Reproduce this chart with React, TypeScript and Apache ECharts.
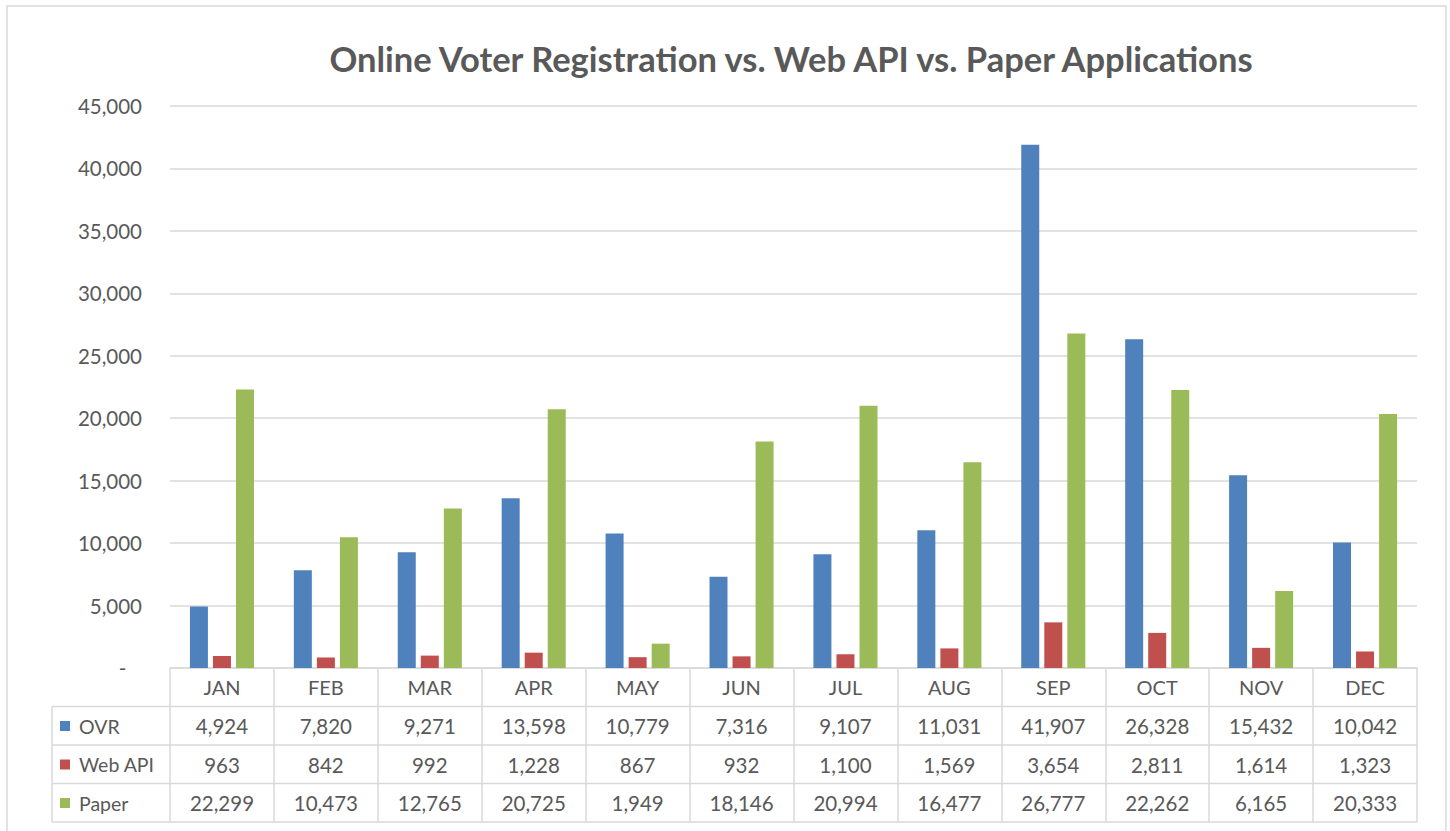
import React, { useEffect, useRef } from "react";
import * as echarts from "echarts";

const months = ["JAN", "FEB", "MAR", "APR", "MAY", "JUN", "JUL", "AUG", "SEP", "OCT", "NOV", "DEC"];
const ovr = [4924, 7820, 9271, 13598, 10779, 7316, 9107, 11031, 41907, 26328, 15432, 10042];
const webApi = [963, 842, 992, 1228, 867, 932, 1100, 1569, 3654, 2811, 1614, 1323];
const paper = [22299, 10473, 12765, 20725, 1949, 18146, 20994, 16477, 26777, 22262, 6165, 20333];
const seriesNames = ["OVR", "Web API", "Paper"];
const seriesData = [ovr, webApi, paper];
const colors = ["#4F81BD", "#C0504D", "#9BBB59"];
const yMin = 0;
const yMax = 45000;
const yStep = 5000;

const FONT = "Lato, 'Open Sans', sans-serif";
const TEXT = "#595959";
const LINE = "#d9d9d9";

const fmt = (v: number) => v.toLocaleString("en-US");

export default function App() {
  const ref = useRef<HTMLDivElement>(null);
  useEffect(() => {
    if (!ref.current) return;
    const chart = echarts.init(ref.current, null, { renderer: "svg" });
    const gridLeft = 170;
    const gridRight = 1417;
    const axisY = 668;
    const rowH = 38.5;
    const tableBottom = axisY + rowH * 4;
    const labelLeft = 52;
    const numSize = 20.5;

    const rowAxes = seriesData.map((d, i) => ({
      type: "category",
      gridIndex: 0,
      position: "bottom",
      offset: rowH * (i + 1),
      data: months,
      axisLine: { show: false },
      axisTick: { show: false },
      splitLine: { show: false },
      axisLabel: {
        interval: 0,
        margin: 9,
        fontSize: numSize,
        fontFamily: FONT,
        color: TEXT,
        formatter: (_v: string, idx: number) => fmt(d[idx]),
      },
    }));

    const hLines = [1, 2, 3, 4].map((k) => ({
      type: "line",
      silent: true,
      shape: { x1: labelLeft, y1: axisY + rowH * k, x2: gridRight, y2: axisY + rowH * k },
      style: { stroke: LINE, lineWidth: 1.5 },
    }));

    chart.setOption({
      animation: false,
      backgroundColor: "#ffffff",
      textStyle: { fontFamily: FONT },
      title: {
        text: "Online Voter Registration vs. Web API vs. Paper Applications",
        left: 786,
        top: 36,
        textAlign: "center",
        textStyle: { fontFamily: FONT, fontSize: 34.5, fontWeight: "bold", color: TEXT },
      },
      legend: {
        orient: "vertical",
        left: 60,
        top: axisY + rowH + 9.5,
        padding: 0,
        itemGap: rowH - 20,
        itemWidth: 10,
        itemHeight: 10,
        icon: "rect",
        selectedMode: false,
        data: seriesNames,
        textStyle: { fontSize: 19.5, color: TEXT, fontFamily: FONT, lineHeight: 20, padding: [0, 0, 0, 4] },
      },
      grid: { left: gridLeft, right: 1450 - gridRight, top: 106, bottom: 831 - axisY, containLabel: false },
      xAxis: [
        {
          type: "category",
          data: months,
          position: "bottom",
          axisLine: { show: true, lineStyle: { color: LINE, width: 1.5 } },
          axisTick: { show: true, length: tableBottom - axisY, lineStyle: { color: LINE, width: 1.5 } },
          axisLabel: { interval: 0, margin: 9, fontSize: 20, fontFamily: FONT, color: TEXT },
        },
        ...rowAxes,
      ],
      yAxis: {
        type: "value",
        min: yMin,
        max: yMax,
        interval: yStep,
        axisLine: { show: false },
        axisTick: { show: false },
        splitLine: { lineStyle: { color: LINE, width: 1.5 } },
        axisLabel: {
          margin: 28,
          fontSize: numSize,
          fontFamily: FONT,
          color: TEXT,
          formatter: (v: number) => (v === 0 ? "-\u00a0\u00a0\u00a0" : fmt(v)),
        },
      },
      series: seriesData.map((d, i) => ({
        name: seriesNames[i],
        type: "bar",
        xAxisIndex: 0,
        data: d,
        barWidth: 18,
        barGap: "28%",
        itemStyle: { color: colors[i] },
      })),
      graphic: [
        {
          type: "rect",
          silent: true,
          shape: { x: 7, y: 6, width: 1439, height: 900 },
          style: { fill: "none", stroke: LINE, lineWidth: 1.5 },
        },
        ...hLines,
        {
          type: "line",
          silent: true,
          shape: { x1: labelLeft, y1: axisY + rowH, x2: labelLeft, y2: tableBottom },
          style: { stroke: LINE, lineWidth: 1.5 },
        },
      ],
    });
    return () => chart.dispose();
  }, []);
  return (
    <div
      ref={ref}
      style={{ position: "absolute", left: 0, top: 0, width: 1450, height: 831, background: "#fff" }}
    />
  );
}
